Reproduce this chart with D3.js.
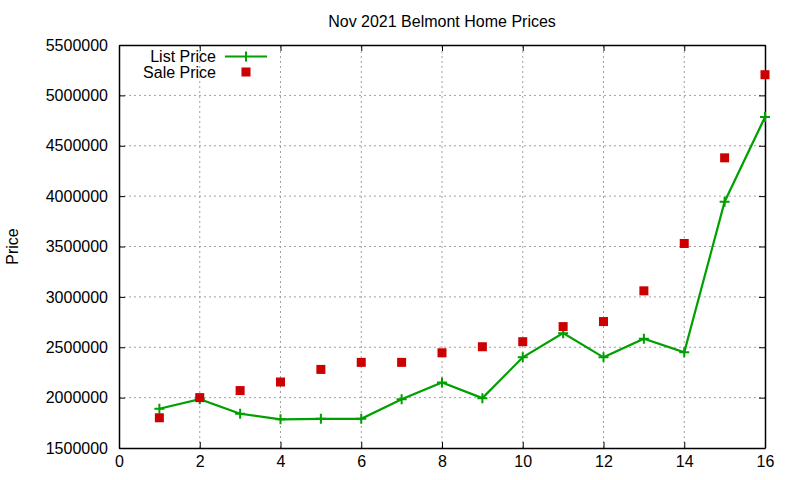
<!DOCTYPE html>
<html>
<head>
<meta charset="utf-8">
<script src="https://cdn.jsdelivr.net/npm/d3@7"></script>
<style>
  body { margin: 0; background: #fff; }
  text { font-family: "Liberation Sans", Arial, sans-serif; fill: #000; }
</style>
</head>
<body>
<div id="chart"></div>
<script>
// values
const houses = [1, 2, 3, 4, 5, 6, 7, 8, 9, 10, 11, 12, 13, 14, 15, 16];
const listPrice = [1890000, 1985000, 1840000, 1785000, 1790000, 1790000, 1985000, 2150000,
    1995000, 2400000, 2640000, 2400000, 2585000, 2450000, 3945000, 4785000];
const salePrice = [1800000, 2000000, 2070000, 2155000, 2280000, 2350000, 2350000, 2445000,
    2505000, 2555000, 2705000, 2755000, 3060000, 3530000, 4380000, 5205000];
const xTicks = [0, 2, 4, 6, 8, 10, 12, 14, 16];
const yTicks = [1500000, 2000000, 2500000, 3000000, 3500000, 4000000, 4500000, 5000000, 5500000];

const width = 800, height = 480;
const margin = {top: 45, right: 35, bottom: 32, left: 119};

let svg = d3.select("#chart").append("svg")
    .attr("width", width)
    .attr("height", height);

let x = d3.scaleLinear().domain([0, 16]).range([margin.left, width - margin.right]);
let y = d3.scaleLinear().domain([1500000, 5500000]).range([height - margin.bottom, margin.top]);

//grid
svg.append("g").selectAll("line").data(xTicks.slice(1, -1)).enter().append("line")
    .attr("x1", d => x(d)).attr("x2", d => x(d))
    .attr("y1", y.range()[0]).attr("y2", y.range()[1])
    .attr("stroke", "#a0a0a0").attr("stroke-dasharray", "2,3");
svg.append("g").selectAll("line").data(yTicks.slice(1, -1)).enter().append("line")
    .attr("y1", d => y(d)).attr("y2", d => y(d))
    .attr("x1", x.range()[0]).attr("x2", x.range()[1])
    .attr("stroke", "#a0a0a0").attr("stroke-dasharray", "2,3");

//axes, ticks point inward and are mirrored like gnuplot
let fmt = d3.format("d");
let bottomAxis = d3.axisBottom(x).tickValues(xTicks).tickSizeInner(-6).tickSizeOuter(0).tickPadding(8).tickFormat(fmt);
let topAxis = d3.axisTop(x).tickValues(xTicks).tickSizeInner(-6).tickSizeOuter(0).tickFormat("");
let leftAxis = d3.axisLeft(y).tickValues(yTicks).tickSizeInner(-6).tickSizeOuter(0).tickPadding(11).tickFormat(fmt);
let rightAxis = d3.axisRight(y).tickValues(yTicks).tickSizeInner(-6).tickSizeOuter(0).tickFormat("");

svg.append("g").attr("transform", `translate(0,${y.range()[0]})`).call(bottomAxis);
svg.append("g").attr("transform", `translate(0,${y.range()[1]})`).call(topAxis);
svg.append("g").attr("transform", `translate(${x.range()[0]},0)`).call(leftAxis);
svg.append("g").attr("transform", `translate(${x.range()[1]},0)`).call(rightAxis);

svg.selectAll(".tick text").style("font-size", "16px").attr("fill", "#000");
svg.selectAll(".tick line").attr("stroke", "#000");
svg.selectAll(".domain").attr("stroke", "#000").attr("stroke-width", 1.5);

//list price line
let line = d3.line().x((d, i) => x(houses[i])).y(d => y(d));
svg.append("path").datum(listPrice)
    .attr("d", line)
    .attr("fill", "none")
    .attr("stroke", "#00a000")
    .attr("stroke-width", 2.2);

svg.append("g").selectAll("path").data(listPrice).enter().append("path")
    .attr("transform", (d, i) => `translate(${x(houses[i])},${y(d)})`)
    .attr("d", "M-5,0H5M0,-5V5")
    .attr("stroke", "#00a000")
    .attr("stroke-width", 2);

//sale price squares
svg.append("g").selectAll("rect").data(salePrice).enter().append("rect")
    .attr("x", (d, i) => x(houses[i]) - 4.5)
    .attr("y", d => y(d) - 4.5)
    .attr("width", 9)
    .attr("height", 9)
    .attr("fill", "#cc0000");

//title and y label
svg.append("text")
    .attr("x", (x.range()[0] + x.range()[1]) / 2)
    .attr("y", 27)
    .attr("text-anchor", "middle")
    .style("font-size", "16px")
    .text("Nov 2021 Belmont Home Prices");

svg.append("text")
    .attr("transform", `translate(18,${(y.range()[0] + y.range()[1]) / 2}) rotate(-90)`)
    .attr("text-anchor", "middle")
    .style("font-size", "16px")
    .text("Price");

//legend
let legend = svg.append("g");
legend.append("text").attr("x", 216).attr("y", 62)
    .attr("text-anchor", "end").style("font-size", "16px").text("List Price");
legend.append("line").attr("x1", 225).attr("x2", 267).attr("y1", 56.5).attr("y2", 56.5)
    .attr("stroke", "#00a000").attr("stroke-width", 2.2);
legend.append("path").attr("transform", "translate(246,56.5)")
    .attr("d", "M0,-5V5").attr("stroke", "#00a000").attr("stroke-width", 2);
legend.append("text").attr("x", 216).attr("y", 78)
    .attr("text-anchor", "end").style("font-size", "16px").text("Sale Price");
legend.append("rect").attr("x", 241.5).attr("y", 67.5).attr("width", 9).attr("height", 9)
    .attr("fill", "#cc0000");
</script>
</body>
</html>
